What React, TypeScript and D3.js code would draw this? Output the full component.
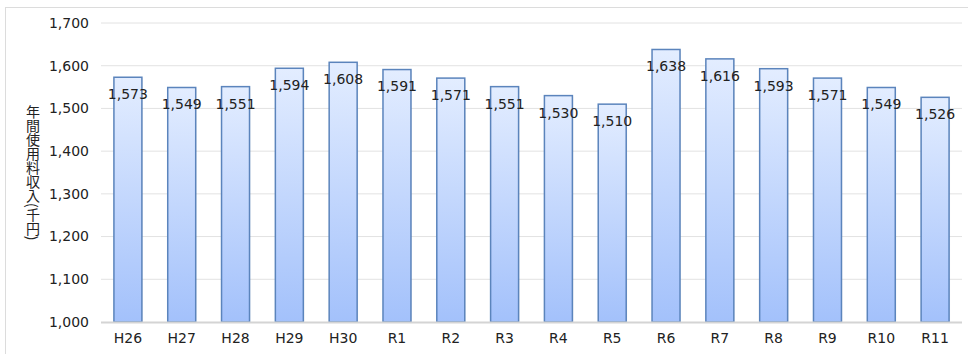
import React from "react";
import * as d3 from "d3";

const categories = ["H26", "H27", "H28", "H29", "H30", "R1", "R2", "R3", "R4", "R5", "R6", "R7", "R8", "R9", "R10", "R11"];
const values = [1573, 1549, 1551, 1594, 1608, 1591, 1571, 1551, 1530, 1510, 1638, 1616, 1593, 1571, 1549, 1526];
const yTicks = [1000, 1100, 1200, 1300, 1400, 1500, 1600, 1700];
const yTitle = "年間使用料収入(千円)";

const W = 968;
const H = 354;
const left = 101;
const right = 962;
const top = 23;
const bottom = 322;
const font = "'DejaVu Sans', Verdana, sans-serif";

export default function App() {
  const x = d3.scaleBand<string>().domain(categories).range([left, right]).paddingInner(0.48).paddingOuter(0.24);
  const y = d3.scaleLinear().domain([1000, 1700]).range([bottom, top]);
  const fmt = d3.format(",");
  return (
    <svg width={W} height={H} style={{ position: "absolute", left: 0, top: 0, background: "#fff" }}>
      <defs>
        <linearGradient id="barGrad" x1="0" y1="0" x2="0" y2="1">
          <stop offset="0%" stopColor="#e3edff" />
          <stop offset="100%" stopColor="#a3c1fb" />
        </linearGradient>
      </defs>
      <rect x={5.5} y={7.5} width={980} height={360} fill="none" stroke="#dcdcdc" strokeWidth={1} />
      {yTicks.map((t) => (
        <g key={t}>
          {t > 1000 && <line x1={left} x2={right} y1={y(t)} y2={y(t)} stroke="#e2e2e2" strokeWidth={1} />}
          <text x={89} y={y(t)} dy="0.35em" textAnchor="end" fontFamily={font} fontSize={14} fill="#222">
            {fmt(t)}
          </text>
        </g>
      ))}
      {categories.map((c, i) => (
        <g key={c}>
          <rect x={x(c)! + 1} y={y(values[i]) + 1} width={x.bandwidth()} height={bottom - y(values[i])} fill="#000" opacity={0.06} />
          <rect
            x={x(c)!}
            y={y(values[i])}
            width={x.bandwidth()}
            height={bottom - y(values[i])}
            fill="url(#barGrad)"
            stroke="#5b84bc"
            strokeWidth={1.5}
          />
        </g>
      ))}
      <line x1={left} x2={right} y1={bottom + 0.5} y2={bottom + 0.5} stroke="#d4d4d4" strokeWidth={2} />
      {categories.map((c, i) => (
        <text
          key={"v" + c}
          x={x(c)! + x.bandwidth() / 2}
          y={y(values[i]) + 17}
          dy="0.35em"
          textAnchor="middle"
          fontFamily={font}
          fontSize={14}
          fill="#222"
        >
          {fmt(values[i])}
        </text>
      ))}
      {categories.map((c) => (
        <text key={"c" + c} x={x(c)! + x.bandwidth() / 2} y={338} dy="0.35em" textAnchor="middle" fontFamily={font} fontSize={14} fill="#222">
          {c}
        </text>
      ))}
      <text
        x={33}
        y={105}
        fontFamily="'Noto Sans CJK JP', sans-serif"
        fontSize={14}
        fill="#222"
        style={{ writingMode: "vertical-rl" } as React.CSSProperties}
      >
        {yTitle}
      </text>
    </svg>
  );
}
